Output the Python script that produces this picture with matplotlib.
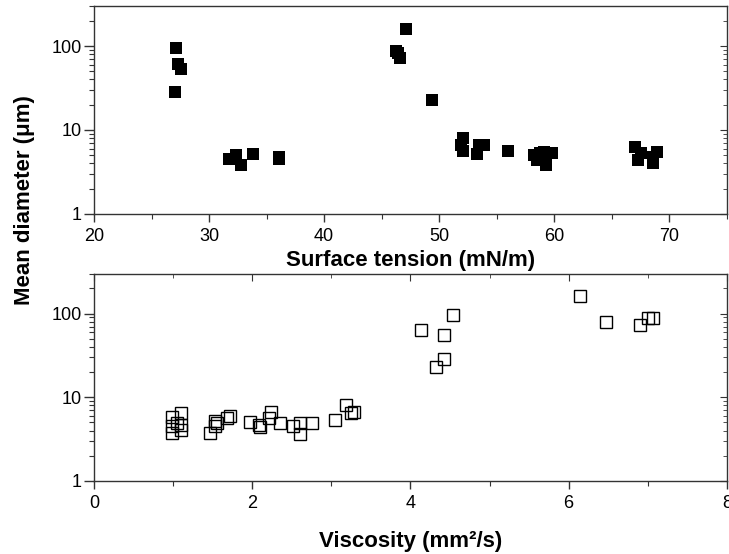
"""
Mean droplet diameter against surface tension and viscosity
"""
import matplotlib
matplotlib.use('Agg')
import matplotlib.pyplot as plt
from matplotlib.ticker import MultipleLocator, FormatStrFormatter, LogLocator

plt.rcParams['font.family'] = ['Liberation Sans', 'DejaVu Sans']

# surface tension (mN/m) and mean diameter (um)
tension = [27.1, 27.3, 27.6, 27.0,
           31.7, 32.35, 32.8, 33.8, 36.06, 36.1,
           47.1, 46.26, 46.45, 46.6, 49.4,
           52.06, 51.9, 52.1, 53.5, 53.3, 53.9, 55.97,
           58.8, 58.2, 59.07, 59.8, 59.3, 58.5,
           67.04, 67.3, 67.5, 68.6, 68.9, 68.6]
diam_tension = [95.5, 62, 54, 28,
                4.48, 5.04, 3.83, 5.18, 4.73, 4.5,
                158, 88, 82, 73, 22.8,
                7.96, 6.63, 5.6, 6.63, 5.15, 6.6, 5.63,
                5.27, 5.04, 5.5, 5.28, 3.83, 4.4,
                6.2, 4.4, 5.27, 4.0, 5.5, 4.8]

# viscosity (mm2/s) and mean diameter (um)
viscosity = [0.99, 0.99, 0.99, 1.05, 1.10, 1.10, 1.10,
             1.46, 1.53, 1.53, 1.56, 1.68, 1.72,
             1.97, 2.09, 2.10, 2.21, 2.24, 2.35,
             2.52, 2.60, 2.60, 2.75,
             3.05, 3.19, 3.25, 3.29,
             4.54, 4.13, 4.43, 4.43, 4.32,
             6.14, 6.47, 6.90, 7.00, 7.07]
diam_viscosity = [3.73, 4.47, 5.8, 4.9, 6.45, 4.69, 4.1,
                  3.73, 4.47, 5.13, 4.98, 5.62, 5.9,
                  5.04, 4.69, 4.4, 5.62, 6.65, 4.98,
                  4.47, 4.98, 3.65, 4.9,
                  5.37, 8.1, 6.45, 6.7,
                  97, 63, 55, 28.7, 22.7,
                  161, 79.5, 73.8, 88.7, 88.7]


def style_axis(ax, xmajor, xminor, top_ticks):
    ax.set_yscale('log')
    ax.set_ylim(1, 300)
    ax.yaxis.set_major_formatter(FormatStrFormatter('%g'))
    ax.yaxis.set_minor_locator(LogLocator(base=10, subs=range(2, 10)))
    ax.xaxis.set_major_locator(MultipleLocator(xmajor))
    ax.xaxis.set_minor_locator(MultipleLocator(xminor))
    for sp in ax.spines.values():
        sp.set_linewidth(1.0)
        sp.set_color('#333333')
    ax.tick_params(which='major', length=6, width=1, labelsize=13,
                   direction='out', color='#333333', pad=4)
    ax.tick_params(which='minor', length=3.5, width=0.8,
                   direction='out', color='#333333')
    ax.tick_params(axis='y', which='major', length=7, pad=2)

    # mirrored ticks pointing inward on the right (and top) spines
    right = ax.secondary_yaxis('right')
    right.yaxis.set_minor_locator(LogLocator(base=10, subs=range(2, 10)))
    right.tick_params(which='both', direction='in', labelright=False,
                      color='#333333')
    right.tick_params(which='major', length=5)
    right.tick_params(which='minor', length=3)
    right.spines['right'].set_visible(False)
    if top_ticks:
        top = ax.secondary_xaxis('top')
        top.xaxis.set_major_locator(MultipleLocator(xmajor))
        top.xaxis.set_minor_locator(MultipleLocator(xminor))
        top.tick_params(which='both', direction='in', labeltop=False,
                        color='#333333')
        top.tick_params(which='major', length=5)
        top.tick_params(which='minor', length=3)
        top.spines['top'].set_visible(False)


fig = plt.figure(figsize=(7.29, 5.54), dpi=100)
ax1 = fig.add_axes([0.129, 0.614, 0.868, 0.375])
ax2 = fig.add_axes([0.129, 0.132, 0.868, 0.374])

# filled squares: surface tension
ax1.plot(tension, diam_tension, 's', color='black', markersize=9,
         markeredgewidth=0, linestyle='none')
ax1.set_xlim(20, 75)
style_axis(ax1, 10, 5, top_ticks=False)
ax1.set_xlabel('Surface tension (mN/m)', fontsize=16, fontweight='bold',
               labelpad=4)

# open squares: viscosity
ax2.plot(viscosity, diam_viscosity, 's', markerfacecolor='none',
         markeredgecolor='black', markeredgewidth=1.0, markersize=8.5,
         linestyle='none')
ax2.set_xlim(0, 8)
style_axis(ax2, 2, 1, top_ticks=True)
ax2.set_xlabel('Viscosity (mm²/s)', fontsize=16, fontweight='bold',
               labelpad=14)

fig.text(0.034, 0.639, 'Mean diameter (\u03bcm)', rotation=90, fontsize=16,
         fontweight='bold', ha='center', va='center')

fig.savefig('out.png', dpi=100)
